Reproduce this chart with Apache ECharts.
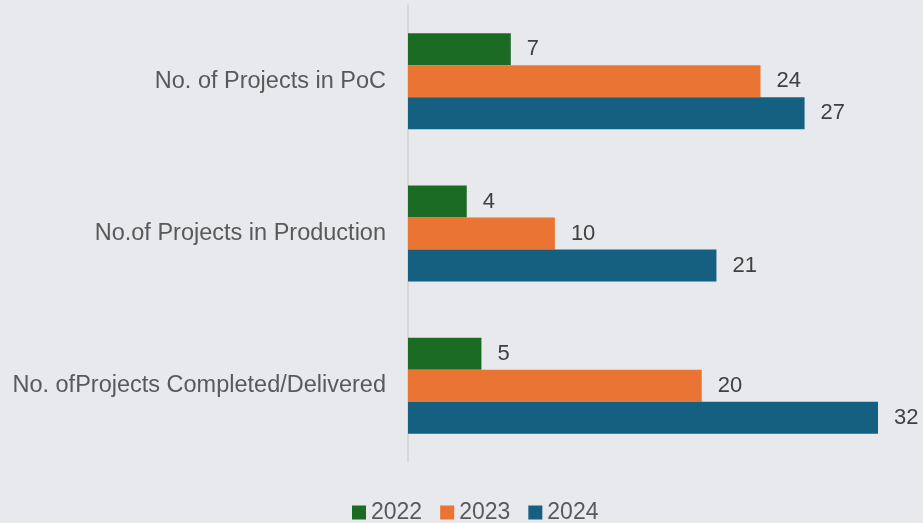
<!DOCTYPE html>
<html>
<head>
<meta charset="UTF-8">
<script src="https://cdn.jsdelivr.net/npm/echarts@6/dist/echarts.min.js"></script>
<style>
  html, body { margin: 0; padding: 0; background: #e8e9ed; }
  #main { width: 923px; height: 523px; }
</style>
</head>
<body>
<div id="main"></div>
<script>
  var categories = ['No. of Projects in PoC', 'No.of Projects in Production', 'No. ofProjects Completed/Delivered'];
  var years = ['2022', '2023', '2024'];
  var v2022 = [7, 4, 5];
  var v2023 = [24, 10, 20];
  var v2024 = [27, 21, 32];
  var colors = ['#1b6b24', '#ea7433', '#155f80'];

  var chart = echarts.init(document.getElementById('main'));
  var values = [v2022, v2023, v2024];
  var series = [];
  for (var i = 0; i < years.length; i++) {
    series.push({
      name: years[i],
      type: 'bar',
      data: values[i],
      barWidth: 32,
      barGap: '0%',
      itemStyle: { color: colors[i] },
      label: {
        show: true,
        position: 'right',
        distance: 16,
        color: '#404040',
        fontSize: 22,
        fontFamily: 'Liberation Sans'
      }
    });
  }

  chart.setOption({
    backgroundColor: '#e8e9ed',
    animation: false,
    grid: { left: 408, right: 45, top: 5, bottom: 61 },
    legend: {
      bottom: -6,
      left: 347,
      itemWidth: 14,
      itemHeight: 14,
      itemGap: 18,
      icon: 'rect',
      textStyle: { color: '#595959', fontSize: 23, fontFamily: 'Liberation Sans' },
      data: years
    },
    xAxis: {
      type: 'value',
      min: 0,
      max: 32,
      show: false
    },
    yAxis: {
      type: 'category',
      data: categories,
      inverse: true,
      axisLine: { show: true, lineStyle: { color: '#d6d6d6', width: 2 } },
      axisTick: { show: false },
      axisLabel: {
        color: '#595959',
        fontSize: 23.5,
        fontFamily: 'Liberation Sans',
        margin: 22
      }
    },
    series: series
  });
</script>
</body>
</html>
